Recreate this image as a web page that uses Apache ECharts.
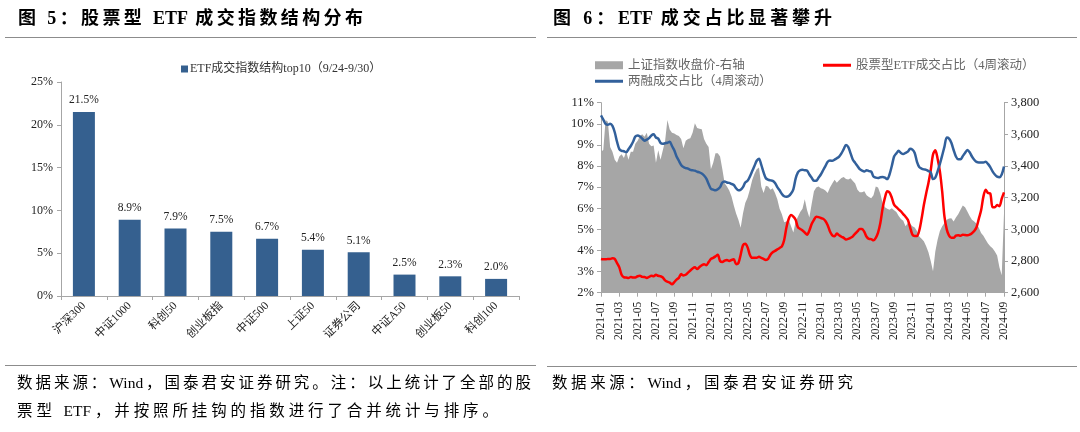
<!DOCTYPE html>
<html>
<head>
<meta charset="utf-8">
<script src="https://cdn.jsdelivr.net/npm/echarts@6/dist/echarts.min.js"></script>
<style>
  html, body { margin: 0; padding: 0; background: #fff; }
  #wrap { position: relative; width: 1080px; height: 432px; overflow: hidden; background: #fff; }
  #c { position: absolute; left: 0; top: 0; width: 1080px; height: 432px; }
  .t { position: absolute; font-family: "Liberation Serif", "Noto Sans CJK SC", serif; font-weight: bold; font-size: 18px; color: #000; white-space: nowrap; line-height: 22px; text-align: justify; text-align-last: justify; }
  .s { position: absolute; font-family: "Liberation Serif", "Noto Sans CJK SC", serif; font-size: 15.5px; color: #000; white-space: nowrap; line-height: 20px; text-align: justify; text-align-last: justify; }
  .hl { position: absolute; height: 0; border-top: 1.5px solid #8c8c8c; }
</style>
</head>
<body>
<div id="wrap">
  <div id="c"></div>
  <div class="t" style="left:18px;top:7px;width:345px;">图 5：股票型 ETF 成交指数结构分布</div>
  <div class="t" style="left:553px;top:7px;width:279px;">图 6：ETF 成交占比显著攀升</div>
  <div class="hl" style="left:5px;width:531px;top:37px;"></div>
  <div class="hl" style="left:547px;width:530px;top:37px;"></div>
  <div class="hl" style="left:5px;width:531px;top:365px;"></div>
  <div class="hl" style="left:547px;width:530px;top:366px;"></div>
  <div class="s" style="left:17px;top:373px;width:514px;">数据来源：Wind，国泰君安证券研究。注：以上统计了全部的股</div>
  <div class="s" style="left:17px;top:401px;width:481px;">票型 ETF，并按照所挂钩的指数进行了合并统计与排序。</div>
  <div class="s" style="left:552px;top:373px;width:301px;">数据来源：Wind，国泰君安证券研究</div>
</div>
<script>
// ---------- Left chart data ----------
const barCategories = ['沪深300', '中证1000', '科创50', '创业板指', '中证500', '上证50', '证券公司', '中证A50', '创业板50', '科创100'];
const barValues = [21.5, 8.9, 7.9, 7.5, 6.7, 5.4, 5.1, 2.5, 2.3, 2.0];
const barSeriesName = 'ETF成交指数结构top10（9/24-9/30）';

// ---------- Right chart data (4 points per month, 2021-01 .. 2024-09) ----------
const monthTickLabels = ['2021-01','2021-03','2021-05','2021-07','2021-09','2021-11',
  '2022-01','2022-03','2022-05','2022-07','2022-09','2022-11',
  '2023-01','2023-03','2023-05','2023-07','2023-09','2023-11',
  '2024-01','2024-03','2024-05','2024-07','2024-09'];

// 上证指数收盘价 (right axis)
const shIndex = [
  3491,3502,3690,3680, 3520,3490,3440,3420, 3460,3475,3450,3490, 3440,3490,3490,3540,
  3560,3590,3600,3585, 3610,3540,3525,3530, 3420,3500,3440,3500, 3560,3690,3630,3610,
  3605,3596,3590,3570, 3512,3560,3570,3575, 3610,3670,3640,3635, 3632,3570,3540,3520,
  3380,3420,3480,3480, 3460,3380,3292,3270, 3245,3208,3150,3100, 3061,3010,3100,3166,
  3200,3250,3310,3350, 3380,3390,3271,3230, 3275,3270,3250,3260, 3230,3190,3130,3095,
  3045,3050,3060,3020, 2980,3050,3080,3110, 3130,3190,3120,3075, 3160,3240,3265,3270,
  3260,3255,3245,3230, 3265,3290,3313,3295, 3310,3325,3330,3318, 3315,3323,3305,3290,
  3250,3235,3235,3240, 3215,3205,3197,3215, 3270,3265,3225,3165, 3140,3130,3124,3134,
  3120,3110,3085,3065, 3055,3020,3040,3035, 3020,3012,2990,2955, 2940,2925,2893,2855,
  2800,2735,2860,2935, 2990,3020,3040,3060, 3068,3071,3050,3075, 3095,3124,3150,3140,
  3113,3085,3060,3050, 3035,3010,2977,2960, 2935,2910,2893,2880, 2860,2835,2760,2710,
  3100
];

// 股票型ETF成交占比（4周滚动）, %
const etfShare = [
  3.6,3.58,3.58,3.6, 3.6,3.63,3.6,3.4, 3.2,2.85,2.73,2.72, 2.7,2.74,2.72,2.72,
  2.78,2.8,2.75,2.74, 2.7,2.75,2.8,2.78, 2.85,2.8,2.78,2.72, 2.58,2.52,2.48,2.4,
  2.5,2.62,2.7,2.88, 2.82,2.85,2.95,3.05, 3.15,3.2,3.12,3.22, 3.3,3.35,3.3,3.45,
  3.6,3.65,3.72,3.8, 3.5,3.45,3.52,3.55, 3.5,3.55,3.58,3.35, 3.4,3.8,4.25,4.32,
  4.15,3.8,3.65,3.65, 3.65,3.7,3.65,3.6, 3.55,3.6,3.8,3.92, 3.98,4.05,4.12,4.2,
  4.5,5.1,5.5,5.68, 5.6,5.45,5.1,5.02, 4.95,4.85,4.75,4.95, 5.25,5.45,5.6,5.58,
  5.54,5.5,5.4,5.2, 4.9,4.72,4.67,4.8, 4.72,4.65,4.6,4.52, 4.55,4.6,4.67,4.8,
  4.9,5.02,5.02,4.88, 4.65,4.55,4.54,4.48, 4.6,4.85,5.3,6.0, 6.5,6.8,6.75,6.5,
  6.17,6.05,5.95,5.85, 5.72,5.6,5.45,5.1, 4.75,4.68,4.68,4.95, 5.5,6.15,6.7,7.2,
  7.8,8.55,8.75,8.35, 7.75,6.8,5.6,5.0, 4.7,4.6,4.6,4.7, 4.72,4.7,4.75,4.73,
  4.72,4.75,4.82,4.92, 5.1,5.5,5.9,6.55, 6.88,6.72,6.7,6.05, 6.05,6.15,6.1,6.45,
  6.75
];

// 两融成交占比（4周滚动）, %
const marginShare = [
  10.4,10.2,10.0,9.95, 10.0,9.9,9.6,9.15, 8.8,8.72,8.7,8.65, 8.8,8.95,9.15,9.4,
  9.45,9.4,9.3,9.2, 9.25,9.32,9.45,9.5, 9.35,9.3,9.1,9.05, 9.08,9.1,9.15,8.95,
  8.75,8.45,8.25,8.05, 7.95,7.9,7.88,7.82, 7.8,7.78,7.73,7.7, 7.65,7.55,7.4,7.15,
  6.92,6.88,6.85,6.9, 7.0,7.22,7.27,7.22, 7.2,7.15,7.1,6.95, 6.85,6.88,7.0,7.22,
  7.3,7.5,7.75,8.0, 8.25,8.35,8.05,7.7, 7.42,7.35,7.32,7.3, 7.2,7.0,6.85,6.68,
  6.57,6.55,6.58,6.7, 6.9,7.4,7.7,7.8, 7.82,7.8,7.78,7.6, 7.45,7.3,7.3,7.45,
  7.6,7.8,8.0,8.2, 8.26,8.25,8.3,8.37, 8.45,8.6,8.8,9.0, 8.9,8.6,8.3,8.15,
  8.0,7.85,7.78,7.74, 7.8,7.76,7.74,7.5, 7.45,7.43,7.47,7.48, 7.45,7.38,7.6,8.0,
  8.45,8.6,8.72,8.62, 8.57,8.62,8.68,8.82, 8.78,8.62,8.2,7.95, 7.88,7.84,7.82,7.76,
  7.7,7.38,7.45,7.75, 8.1,8.5,8.92,9.35, 9.3,9.1,8.76,8.45, 8.32,8.32,8.47,8.62,
  8.76,8.65,8.45,8.3, 8.2,8.17,8.17,8.17, 8.2,8.1,7.95,7.75, 7.6,7.5,7.47,7.6,
  7.98
];

const PER_MONTH = 4;
const POINTS_PER_TICK = PER_MONTH * 2;

// category names: tick label for each 2-month block, with a point suffix
const weekCategories = shIndex.map(function (_, i) {
  const block = Math.floor(i / POINTS_PER_TICK);
  return monthTickLabels[block] + '#' + (i % POINTS_PER_TICK);
});

const serif = '"Liberation Serif", "Noto Sans CJK SC", serif';
const axisGray = '#a6a6a6';

const chart = echarts.init(document.getElementById('c'), null, { renderer: 'canvas', width: 1080, height: 432 });

const option = {
  animation: false,
  backgroundColor: 'transparent',
  textStyle: { fontFamily: serif },
  legend: [
    {
      data: [barSeriesName], left: 176, top: 58, icon: 'rect', itemWidth: 7, itemHeight: 7, itemGap: 2,
      selectedMode: false, textStyle: { fontFamily: serif, fontSize: 12, color: '#333', padding: [0, 0, 0, -3] }
    },
    {
      data: ['上证指数收盘价-右轴'], left: 590, top: 54, icon: 'rect', itemWidth: 28, itemHeight: 8, itemGap: 4,
      selectedMode: false, textStyle: { fontFamily: serif, fontSize: 12.5, color: '#666' }
    },
    {
      data: ['股票型ETF成交占比（4周滚动）'], left: 818, top: 54, icon: 'rect', itemWidth: 28, itemHeight: 3,
      selectedMode: false, textStyle: { fontFamily: serif, fontSize: 12.5, color: '#666' }
    },
    {
      data: ['两融成交占比（4周滚动）'], left: 590, top: 70, icon: 'rect', itemWidth: 28, itemHeight: 3,
      selectedMode: false, textStyle: { fontFamily: serif, fontSize: 12.5, color: '#666' }
    }
  ],
  grid: [
    { left: 61, top: 82, width: 458, height: 214 },
    { left: 601, top: 102.7, width: 403, height: 190 }
  ],
  xAxis: [
    {
      gridIndex: 0, type: 'category', data: barCategories,
      axisLine: { lineStyle: { color: axisGray, width: 1 } },
      axisTick: { show: true, length: 4, lineStyle: { color: axisGray } },
      axisLabel: { rotate: 45, fontSize: 11.5, color: '#222', fontFamily: serif, margin: 8 }
    },
    {
      gridIndex: 1, type: 'category', boundaryGap: false, data: weekCategories,
      axisLine: { lineStyle: { color: axisGray, width: 1 } },
      axisTick: { show: true, length: 4, interval: function (i) { return i % POINTS_PER_TICK === 0; }, lineStyle: { color: axisGray } },
      axisLabel: {
        interval: function (i) { return i % POINTS_PER_TICK === 0; },
        rotate: 90, fontSize: 11.5, color: '#222', fontFamily: serif, margin: 9,
        formatter: function (v) { return v.split('#')[0]; }
      }
    }
  ],
  yAxis: [
    {
      gridIndex: 0, type: 'value', min: 0, max: 25, interval: 5,
      axisLine: { show: true, lineStyle: { color: axisGray } },
      axisTick: { show: true, length: 4, lineStyle: { color: axisGray } },
      splitLine: { show: false },
      axisLabel: { formatter: '{value}%', fontSize: 12, color: '#222', fontFamily: serif, margin: 8 }
    },
    {
      gridIndex: 1, type: 'value', min: 2, max: 11, interval: 1,
      axisLine: { show: true, lineStyle: { color: axisGray } },
      axisTick: { show: true, length: 4, lineStyle: { color: axisGray } },
      splitLine: { show: false },
      axisLabel: { formatter: '{value}%', fontSize: 12.5, color: '#222', fontFamily: serif, margin: 7 }
    },
    {
      gridIndex: 1, type: 'value', min: 2600, max: 3800, interval: 200, position: 'right',
      axisLine: { show: true, lineStyle: { color: axisGray } },
      axisTick: { show: true, length: 4, lineStyle: { color: axisGray } },
      splitLine: { show: false },
      axisLabel: {
        fontSize: 12.5, color: '#222', fontFamily: serif, margin: 7,
        formatter: function (v) { return v.toLocaleString('en-US'); }
      }
    }
  ],
  series: [
    {
      name: barSeriesName, type: 'bar', xAxisIndex: 0, yAxisIndex: 0, data: barValues,
      barWidth: 22, itemStyle: { color: '#35608f' },
      label: {
        show: true, position: 'top', distance: 6, fontFamily: serif, fontSize: 11.5, color: '#222',
        formatter: function (p) { return p.value.toFixed(1) + '%'; }
      }
    },
    {
      name: '上证指数收盘价-右轴', type: 'line', xAxisIndex: 1, yAxisIndex: 2, data: shIndex,
      symbol: 'none', color: '#a6a6a6', lineStyle: { width: 0 },
      areaStyle: { color: '#a6a6a6', opacity: 1, origin: 'start' }, z: 1
    },
    {
      name: '股票型ETF成交占比（4周滚动）', type: 'line', xAxisIndex: 1, yAxisIndex: 1, data: etfShare,
      symbol: 'none', smooth: 0.3, color: '#ff0000', lineStyle: { width: 2.5, color: '#ff0000' }, z: 3
    },
    {
      name: '两融成交占比（4周滚动）', type: 'line', xAxisIndex: 1, yAxisIndex: 1, data: marginShare,
      symbol: 'none', smooth: 0.3, color: '#32609b', lineStyle: { width: 2.5, color: '#32609b' }, z: 3
    }
  ]
};
chart.setOption(option);
</script>
</body>
</html>
